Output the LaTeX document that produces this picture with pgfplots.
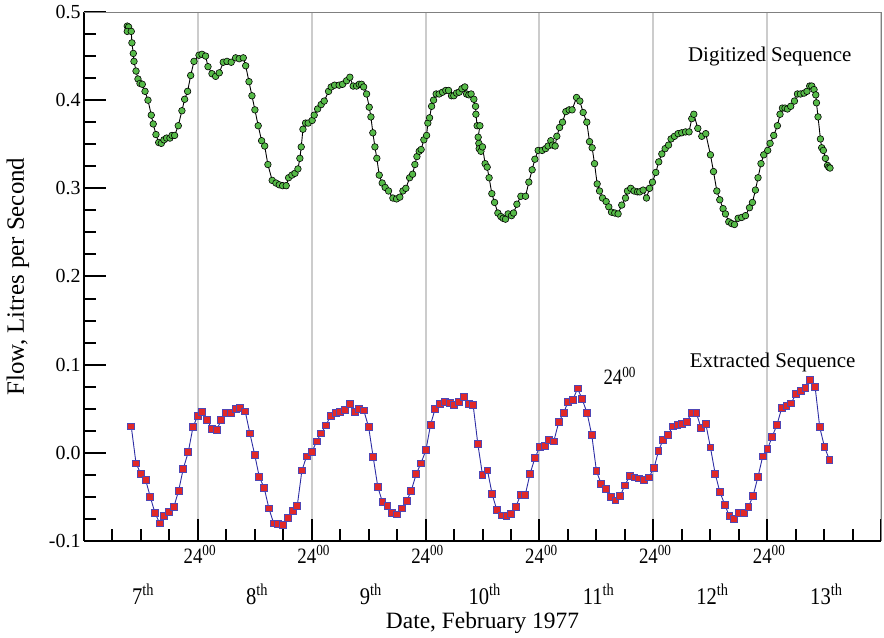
\documentclass[border=0pt]{standalone}
\usepackage{pgfplots}
\pgfplotsset{compat=1.18}
\usepackage{fontspec}
\setmainfont{Liberation Serif}
\newfontfamily\narrowfont[FakeStretch=0.86]{Liberation Serif}
\definecolor{mkgreen}{RGB}{86,186,72}
\definecolor{sqred}{RGB}{225,40,40}
\definecolor{sqblue}{RGB}{80,70,180}
\definecolor{lnblue}{RGB}{45,45,165}
\begin{document}
\begin{tikzpicture}
\begin{axis}[
  scale only axis, width=797bp, height=529bp,
  xmin=0, xmax=7, ymin=-0.1, ymax=0.5,
  axis x line*=bottom, axis y line*=left,
  axis line style={line width=2bp, black, -},
  xtick={0,1,2,3,4,5,6,7},
  xticklabels={,24\textsuperscript{00},24\textsuperscript{00},24\textsuperscript{00},24\textsuperscript{00},24\textsuperscript{00},24\textsuperscript{00},},
  minor x tick num=3,
  ytick={-0.1,0,0.1,0.2,0.3,0.4,0.5},
  minor y tick num=3,
  tick align=inside,
  major tick length=22bp, minor tick length=11.5bp,
  tick style={line width=2bp, black},
  xmajorgrids, major grid style={black!20, line width=2bp},
  yticklabel style={/pgf/number format/.cd, fixed, fixed zerofill, precision=1, assume math mode=true},
  tick label style={font=\fontsize{20}{24}\selectfont},
  xticklabel style={font=\narrowfont\fontsize{22}{26}\selectfont, yshift=-1bp, xshift=2bp},
  clip=false,
]
\draw[black!50, line width=0.8bp] (rel axis cs:0,1) -- (rel axis cs:1,1) -- (rel axis cs:1,0);

\addplot[black, line width=0.9bp, mark=*, mark size=3.3bp, mark options={fill=mkgreen, draw=black, line width=0.6bp}] coordinates {
(0.380,0.484)(0.392,0.483)(0.380,0.478)(0.415,0.478)(0.421,0.465)(0.433,0.453)(0.439,0.444)(0.457,0.433)(0.474,0.424)(0.492,0.419)(0.512,0.418)(0.536,0.410)(0.562,0.400)(0.591,0.383)(0.608,0.373)(0.632,0.361)(0.656,0.352)(0.679,0.351)(0.702,0.355)(0.726,0.357)(0.755,0.357)(0.773,0.360)(0.796,0.360)(0.828,0.371)(0.860,0.388)(0.884,0.401)(0.910,0.410)(0.937,0.428)(0.966,0.444)(1.010,0.451)(1.036,0.452)(1.068,0.450)(1.089,0.438)(1.124,0.430)(1.156,0.427)(1.188,0.431)(1.223,0.443)(1.256,0.444)(1.293,0.443)(1.332,0.448)(1.363,0.447)(1.399,0.448)(1.420,0.439)(1.449,0.421)(1.475,0.405)(1.501,0.389)(1.530,0.371)(1.560,0.354)(1.587,0.348)(1.615,0.327)(1.653,0.309)(1.686,0.306)(1.715,0.304)(1.745,0.303)(1.776,0.303)(1.797,0.312)(1.826,0.315)(1.853,0.317)(1.879,0.322)(1.896,0.334)(1.908,0.347)(1.923,0.367)(1.946,0.374)(1.969,0.374)(2.004,0.377)(2.022,0.383)(2.052,0.390)(2.083,0.395)(2.110,0.399)(2.148,0.410)(2.171,0.415)(2.201,0.417)(2.241,0.417)(2.271,0.418)(2.306,0.422)(2.335,0.426)(2.364,0.416)(2.394,0.416)(2.417,0.418)(2.438,0.418)(2.456,0.415)(2.482,0.407)(2.505,0.392)(2.520,0.381)(2.537,0.363)(2.555,0.347)(2.572,0.334)(2.593,0.315)(2.619,0.306)(2.645,0.301)(2.675,0.297)(2.713,0.289)(2.745,0.288)(2.774,0.290)(2.801,0.297)(2.827,0.300)(2.860,0.312)(2.886,0.316)(2.906,0.327)(2.924,0.336)(2.944,0.342)(2.961,0.344)(2.985,0.355)(3.009,0.360)(3.020,0.374)(3.035,0.380)(3.053,0.393)(3.070,0.400)(3.093,0.407)(3.119,0.407)(3.149,0.409)(3.178,0.411)(3.202,0.411)(3.228,0.405)(3.248,0.405)(3.272,0.408)(3.295,0.409)(3.319,0.413)(3.345,0.415)(3.360,0.407)(3.380,0.406)(3.400,0.407)(3.424,0.401)(3.439,0.393)(3.442,0.384)(3.453,0.371)(3.477,0.371)(3.462,0.358)(3.468,0.351)(3.471,0.345)(3.486,0.342)(3.500,0.347)(3.523,0.328)(3.541,0.324)(3.558,0.312)(3.582,0.294)(3.606,0.284)(3.635,0.272)(3.661,0.268)(3.681,0.266)(3.702,0.265)(3.725,0.271)(3.755,0.269)(3.773,0.272)(3.802,0.282)(3.837,0.291)(3.878,0.291)(3.907,0.307)(3.936,0.321)(3.960,0.333)(3.989,0.343)(4.024,0.343)(4.054,0.345)(4.076,0.348)(4.100,0.354)(4.115,0.349)(4.138,0.348)(4.153,0.359)(4.177,0.369)(4.203,0.375)(4.232,0.387)(4.261,0.389)(4.287,0.389)(4.326,0.403)(4.355,0.399)(4.384,0.386)(4.416,0.375)(4.440,0.353)(4.463,0.346)(4.484,0.328)(4.507,0.305)(4.528,0.297)(4.554,0.289)(4.586,0.285)(4.609,0.279)(4.633,0.273)(4.662,0.272)(4.691,0.271)(4.723,0.281)(4.756,0.289)(4.773,0.297)(4.802,0.300)(4.831,0.297)(4.861,0.296)(4.881,0.296)(4.911,0.298)(4.940,0.289)(4.967,0.300)(4.993,0.307)(5.022,0.318)(5.048,0.330)(5.075,0.339)(5.104,0.345)(5.134,0.349)(5.156,0.356)(5.186,0.359)(5.218,0.362)(5.250,0.363)(5.283,0.364)(5.314,0.364)(5.338,0.379)(5.356,0.384)(5.391,0.368)(5.426,0.359)(5.461,0.362)(5.502,0.338)(5.529,0.319)(5.558,0.297)(5.584,0.287)(5.613,0.277)(5.634,0.271)(5.663,0.262)(5.689,0.260)(5.713,0.259)(5.745,0.266)(5.777,0.267)(5.810,0.269)(5.845,0.278)(5.871,0.284)(5.897,0.298)(5.920,0.312)(5.946,0.328)(5.970,0.338)(6.005,0.343)(6.026,0.351)(6.058,0.360)(6.090,0.371)(6.113,0.384)(6.134,0.391)(6.157,0.391)(6.178,0.390)(6.207,0.393)(6.240,0.399)(6.266,0.407)(6.292,0.407)(6.324,0.408)(6.350,0.410)(6.374,0.416)(6.392,0.416)(6.412,0.412)(6.427,0.406)(6.433,0.397)(6.447,0.381)(6.468,0.356)(6.479,0.346)(6.494,0.343)(6.512,0.334)(6.530,0.326)(6.541,0.324)(6.552,0.323)
};

\addplot[lnblue, line width=0.9bp, mark=square*, mark size=3.4bp, mark options={fill=sqred, draw=sqblue, line width=0.9bp}] coordinates {
(0.415,0.030)(0.457,-0.012)(0.500,-0.024)(0.542,-0.031)(0.582,-0.050)(0.623,-0.068)(0.665,-0.080)(0.705,-0.072)(0.749,-0.067)(0.790,-0.061)(0.831,-0.043)(0.872,-0.018)(0.916,0.001)(0.957,0.029)(0.998,0.042)(1.039,0.046)(1.083,0.037)(1.124,0.027)(1.165,0.026)(1.205,0.037)(1.249,0.045)(1.291,0.045)(1.332,0.050)(1.372,0.051)(1.416,0.047)(1.457,0.022)(1.499,-0.002)(1.539,-0.027)(1.583,-0.040)(1.624,-0.063)(1.666,-0.080)(1.706,-0.081)(1.747,-0.082)(1.791,-0.074)(1.832,-0.066)(1.873,-0.060)(1.914,-0.020)(1.955,-0.004)(2.002,0.001)(2.043,0.013)(2.083,0.022)(2.125,0.031)(2.166,0.042)(2.210,0.045)(2.250,0.046)(2.292,0.049)(2.333,0.055)(2.377,0.046)(2.417,0.050)(2.458,0.048)(2.500,0.029)(2.540,-0.005)(2.581,-0.039)(2.622,-0.056)(2.666,-0.060)(2.707,-0.068)(2.748,-0.070)(2.792,-0.063)(2.833,-0.055)(2.874,-0.043)(2.918,-0.024)(2.959,-0.012)(3.003,0.003)(3.044,0.032)(3.084,0.050)(3.126,0.055)(3.167,0.058)(3.211,0.057)(3.251,0.054)(3.292,0.058)(3.334,0.063)(3.378,0.055)(3.418,0.054)(3.459,0.010)(3.500,-0.025)(3.544,-0.020)(3.585,-0.047)(3.626,-0.065)(3.667,-0.071)(3.711,-0.072)(3.752,-0.069)(3.793,-0.061)(3.834,-0.048)(3.875,-0.048)(3.917,-0.024)(3.960,-0.006)(4.004,0.007)(4.045,0.008)(4.085,0.015)(4.126,0.013)(4.170,0.035)(4.212,0.045)(4.252,0.058)(4.293,0.060)(4.335,0.073)(4.375,0.061)(4.419,0.045)(4.460,0.020)(4.501,-0.021)(4.542,-0.035)(4.583,-0.041)(4.627,-0.050)(4.668,-0.054)(4.709,-0.049)(4.750,-0.037)(4.794,-0.026)(4.835,-0.028)(4.875,-0.029)(4.919,-0.031)(4.960,-0.028)(5.007,-0.017)(5.046,0.002)(5.086,0.015)(5.127,0.020)(5.171,0.030)(5.212,0.032)(5.253,0.033)(5.294,0.035)(5.335,0.045)(5.379,0.045)(5.420,0.028)(5.461,0.033)(5.502,0.006)(5.544,-0.024)(5.584,-0.044)(5.628,-0.059)(5.669,-0.072)(5.710,-0.075)(5.753,-0.068)(5.795,-0.068)(5.836,-0.061)(5.876,-0.049)(5.920,-0.027)(5.961,-0.004)(6.003,0.004)(6.043,0.018)(6.087,0.032)(6.128,0.051)(6.170,0.053)(6.210,0.056)(6.254,0.067)(6.295,0.070)(6.336,0.074)(6.377,0.083)(6.421,0.075)(6.462,0.029)(6.503,0.007)(6.547,-0.008)
};

\node[font=\fontsize{21}{25}\selectfont] at (axis cs:6.023,0.449) {Digitized Sequence};
\node[font=\fontsize{21}{25}\selectfont] at (axis cs:6.049,0.102) {Extracted Sequence};
\node[font=\narrowfont\fontsize{22}{26}\selectfont] at (axis cs:4.706,0.087) {24\textsuperscript{00}};

\node[inner sep=0pt, font=\narrowfont\fontsize{24}{28}\selectfont] at ([yshift=-53bp]axis cs:0.52,-0.1) {7\textsuperscript{th}};
\node[inner sep=0pt, font=\narrowfont\fontsize{24}{28}\selectfont] at ([yshift=-53bp]axis cs:1.52,-0.1) {8\textsuperscript{th}};
\node[inner sep=0pt, font=\narrowfont\fontsize{24}{28}\selectfont] at ([yshift=-53bp]axis cs:2.52,-0.1) {9\textsuperscript{th}};
\node[inner sep=0pt, font=\narrowfont\fontsize{24}{28}\selectfont] at ([yshift=-53bp]axis cs:3.52,-0.1) {10\textsuperscript{th}};
\node[inner sep=0pt, font=\narrowfont\fontsize{24}{28}\selectfont] at ([yshift=-53bp]axis cs:4.52,-0.1) {11\textsuperscript{th}};
\node[inner sep=0pt, font=\narrowfont\fontsize{24}{28}\selectfont] at ([yshift=-53bp]axis cs:5.52,-0.1) {12\textsuperscript{th}};
\node[inner sep=0pt, font=\narrowfont\fontsize{24}{28}\selectfont] at ([yshift=-53bp]axis cs:6.52,-0.1) {13\textsuperscript{th}};

\node[inner sep=0pt, font=\fontsize{23.5}{27}\selectfont] at ([yshift=-82bp]rel axis cs:0.5,0) {Date, February 1977};
\node[inner sep=0pt, font=\fontsize{25}{29}\selectfont, rotate=90] at ([xshift=-66bp]rel axis cs:0,0.5) {Flow, Litres per Second};

\coordinate (bl) at (rel axis cs:0,0);
\coordinate (tr) at (rel axis cs:1,1);
\end{axis}
\pgfresetboundingbox
\path[use as bounding box] ([xshift=-84bp,yshift=-97bp]bl) rectangle ([xshift=3bp,yshift=12bp]tr);
\end{tikzpicture}
\end{document}
